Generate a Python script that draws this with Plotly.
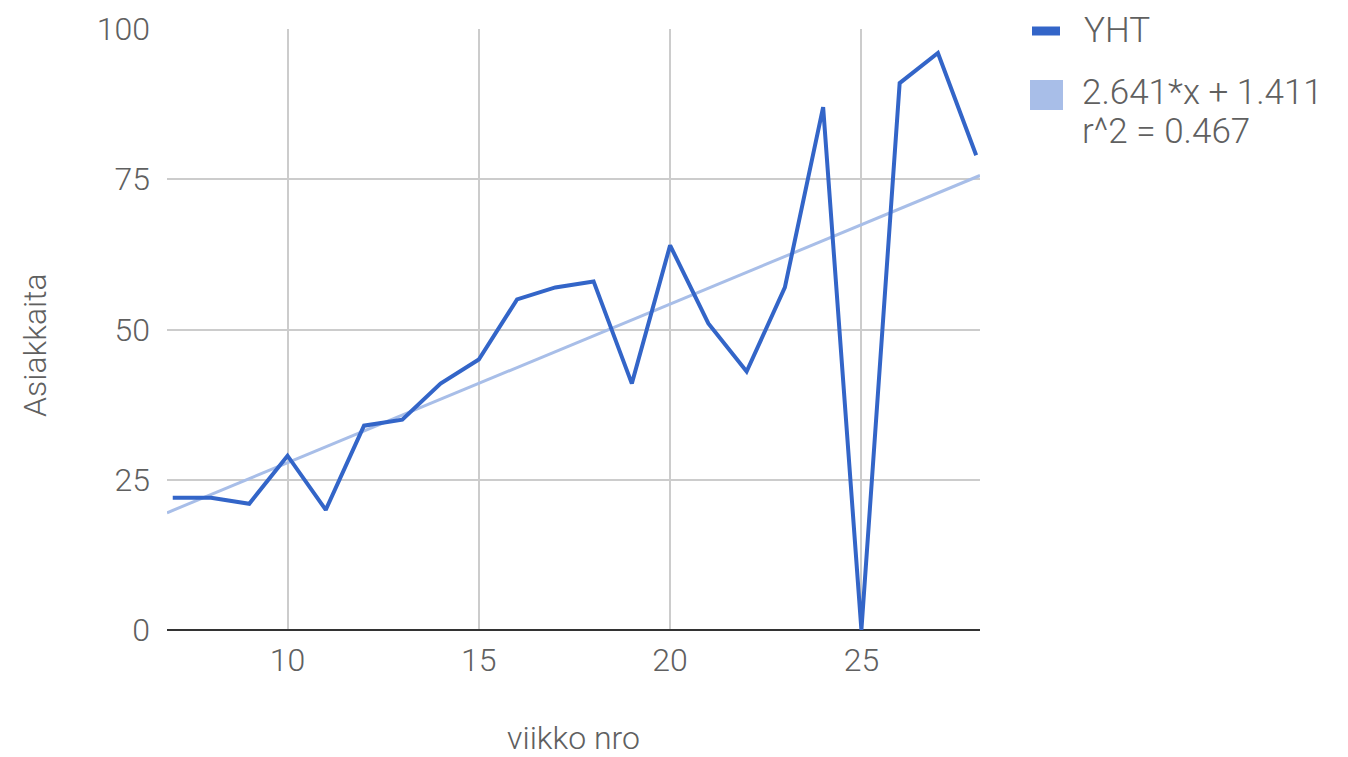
import plotly.graph_objects as go

# Weekly customer counts (YHT) by week number
weeks = list(range(7, 29))
customers = [22, 22, 21, 29, 20, 34, 35, 41, 45, 55, 57, 58,
             41, 64, 51, 43, 57, 87, 0, 91, 96, 79]

# Linear trend: y = slope * x + intercept
slope = 2.641
intercept = 1.411
r_squared = 0.467

x_range = [6.85, 28.1]
y_ticks = [0, 25, 50, 75, 100]
x_ticks = [10, 15, 20, 25]

LINE_BLUE = "#3365c8"
TREND_BLUE = "rgb(168,190,232)"
TEXT_GREY = "#606060"
FONT = "Roboto"
WEIGHT = 300

W, H = 1348, 757
M_L, M_R, M_T, M_B = 167, 368, 29, 127
PW, PH = W - M_L - M_R, H - M_T - M_B


def px_x(p):
    return (p - M_L) / PW


def px_y(p):
    return (H - M_B - p) / PH


def text_font(size):
    return dict(family=FONT, size=size, color=TEXT_GREY, weight=WEIGHT)


trend_x = x_range
trend_y = [slope * v + intercept for v in trend_x]

fig = go.Figure()
fig.add_trace(go.Scatter(
    x=trend_x, y=trend_y, mode="lines",
    line=dict(color=TREND_BLUE, width=3),
    showlegend=False, hoverinfo="skip",
))
fig.add_trace(go.Scatter(
    x=weeks, y=customers, mode="lines", name="YHT",
    line=dict(color=LINE_BLUE, width=4),
    showlegend=False,
))

# Legend drawn by hand: swatches plus labels
legend_shapes = [
    dict(type="line", xref="paper", yref="paper",
         x0=px_x(1032), x1=px_x(1060), y0=px_y(31), y1=px_y(31),
         line=dict(color=LINE_BLUE, width=9)),
    dict(type="rect", xref="paper", yref="paper",
         x0=px_x(1030), x1=px_x(1063), y0=px_y(110), y1=px_y(80),
         fillcolor=TREND_BLUE, line=dict(width=0)),
]
trend_label = f"{slope}*x + {intercept}"
r2_label = f"r^2 = {r_squared}"
legend_texts = [
    ("YHT", 1083, 30),
    (trend_label, 1081, 92),
    (r2_label, 1081, 132),
]
annotations = [
    dict(text=t, xref="paper", yref="paper", x=px_x(xp), y=px_y(yp),
         xanchor="left", yanchor="middle", showarrow=False,
         borderpad=0, font=text_font(35))
    for t, xp, yp in legend_texts
]
# Vertical axis title
annotations.append(dict(
    text="Asiakkaita", xref="paper", yref="paper",
    x=px_x(35), y=px_y(345), xanchor="center", yanchor="middle",
    textangle=-90, showarrow=False, font=text_font(32),
))

fig.update_layout(
    width=W, height=H,
    margin=dict(l=M_L, r=M_R, t=M_T, b=M_B, autoexpand=False),
    paper_bgcolor="white", plot_bgcolor="white",
    font=text_font(32),
    showlegend=False,
    shapes=legend_shapes,
    annotations=annotations,
    xaxis=dict(
        range=x_range, tickvals=x_ticks, ticks="",
        ticklabelstandoff=8,
        showgrid=True, gridcolor="#cccccc", gridwidth=1.5,
        zeroline=False, showline=False, automargin=False,
        title=dict(text="viikko nro", standoff=53, font=text_font(32)),
        tickfont=text_font(32),
    ),
    yaxis=dict(
        range=[0, 100], tickvals=y_ticks, ticks="",
        ticklabelstandoff=16,
        showgrid=True, gridcolor="#cccccc", gridwidth=1.5,
        zeroline=True, zerolinecolor="#333333", zerolinewidth=2,
        showline=False, automargin=False,
        tickfont=text_font(32),
    ),
)

fig.write_html("out.html")
